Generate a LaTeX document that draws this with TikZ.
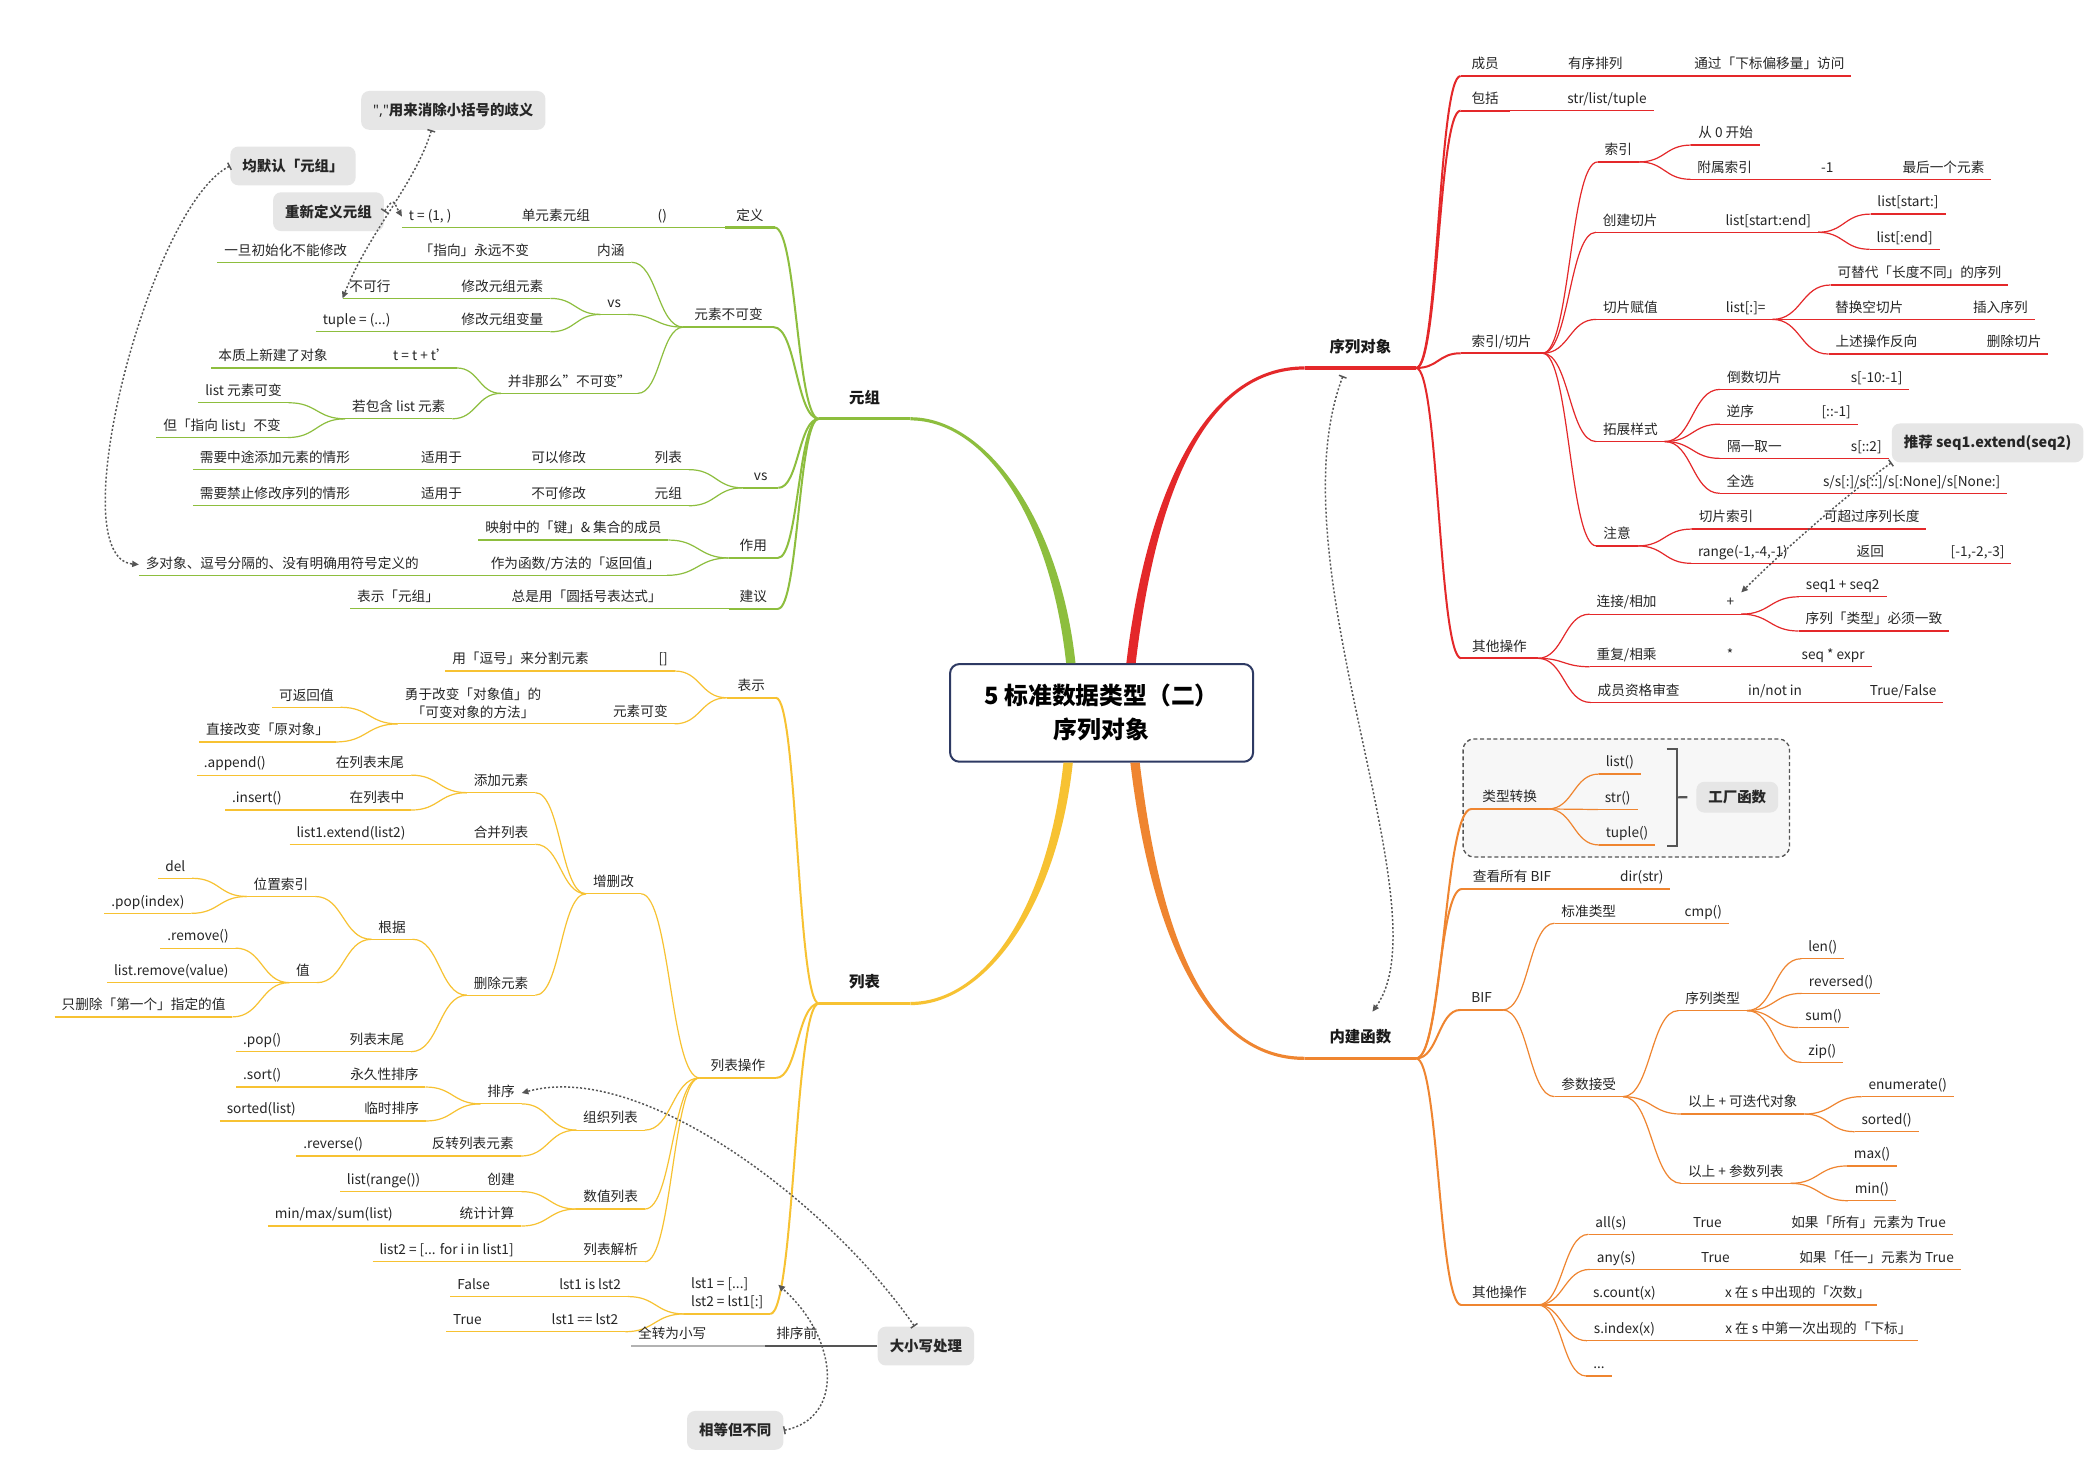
\documentclass[tikz,border=0pt]{standalone}
\usepackage{fontspec}
\setmainfont{Noto Sans CJK SC}
\newfontfamily\lat{Noto Sans}
\usetikzlibrary{arrows.meta, calc}
\definecolor{cG}{HTML}{8DBE3E}
\definecolor{cY}{HTML}{F7C232}
\definecolor{cR}{HTML}{E4282A}
\definecolor{cO}{HTML}{EF8530}
\definecolor{cN}{HTML}{2E3A63}
\definecolor{cC}{HTML}{E6E6E6}
\definecolor{cD}{HTML}{555555}
\colorlet{brc}{cG}
\newcommand\nf{\fontsize{10.2}{12}\selectfont}

\begin{document}
\begin{tikzpicture}[x=1pt, y=-1pt,
  tp/.style={anchor=south, inner xsep=5pt, inner ysep=3pt, text height=7.6pt, text depth=2.2pt, font=\nf, text=black!85},
  tm/.style={anchor=south, inner xsep=5pt, inner ysep=4pt, align=center, font=\fontsize{10.2}{13.4}\selectfont, text=black!85},
  u2/.style={append after command={(\tikzlastnode.south west) edge[ul] (\tikzlastnode.south east)}},
  u1/.style={append after command={(\tikzlastnode.south west) edge[ul1] (\tikzlastnode.south east)}},
  t2/.style={tp, u2},
  t1/.style={tp, inner xsep=8pt, u1},
  mn/.style={anchor=south west, inner xsep=6pt, inner ysep=9pt, text height=9pt, text depth=2.5pt, font=\fontsize{11.5}{13}\selectfont\bfseries, text=black!90,
    append after command={(\tikzlastnode.south west) edge[ulm] (\tikzlastnode.south east)}},
  ul/.style={draw=brc, line width=0.9pt},
  ul1/.style={draw=brc, line width=1.6pt},
  ulm/.style={draw=brc, line width=2.4pt},
  lk/.style={draw=brc, line width=0.9pt},
  lk1/.style={draw=brc, line width=1.5pt},
  cv/.style={to path={let \p1=(\tikztostart), \p2=(\tikztotarget) in .. controls ({0.5*\x1+0.5*\x2},\y1) and ({0.5*\x1+0.5*\x2},\y2) .. (\tikztotarget)}},
  hub/.style={draw=cN, line width=1.5pt, fill=white, rounded corners=7pt, minimum width=226.5pt, minimum height=73pt, align=center, font=\fontsize{17.8}{25.5}\selectfont\bfseries},
  note/.style={fill=cC, rounded corners=6pt, inner xsep=9pt, minimum height=29pt, font=\fontsize{10.8}{12}\selectfont\bfseries, text=black!85},
  rel/.style={draw=cD, line width=1.1pt, dash pattern=on 1.5pt off 1.5pt, arrows={Bar[width=6pt]-Triangle[length=5pt,width=4.5pt]}},
  bnd/.style={draw=cD, fill=gray!6, line width=1pt, dash pattern=on 3pt off 2pt, rounded corners=8pt},
  brk/.style={draw=cD, line width=1.6pt}
]
\useasboundingbox (0,0) rectangle (1568,1093);
\fill[white] (0,0) rectangle (1568,1093);

\node[hub] (ctr) at (823.3,532.8) {5 标准数据类型（二）\\序列对象};

% ---- 元组
\begin{scope}
\colorlet{brc}{cG}
\node[mn, minimum width=68pt] (tup) at (612,313) {元组};
\fill[cG] ($(ctr.north)+(-26.5,0)$) .. controls +(-12,-110) and +(55,0) .. ($(tup.south east)+(0,1.2)$) -- ($(tup.south east)+(0,-1.2)$) .. controls +(55,0) and +(-12,-110) .. ($(ctr.north)+(-19.5,0)$) -- cycle;
\node[t1] (dy) at (560.5,170) {定义};
\node[t2] (dyk) at (495,170) {()};
\node[t2] (dyd) at (415.5,170) {单元素元组};
\node[t2] (dyt) at (321.5,170) {t = (1, )};
\node[t1] (bkb) at (544.5,244.5) {元素不可变};
\node[t2] (nh) at (456.5,196) {内涵};
\node[t2] (zx) at (354.5,196) {「指向」永远不变};
\node[t2] (csh) at (213.5,196) {一旦初始化不能修改};
\node[t2] (vs1) at (459,235) {vs};
\node[t2] (xys) at (375.5,223) {修改元组元素};
\node[t2] (bkx) at (276.5,223) {不可行};
\node[t2] (xbl) at (375.5,248) {修改元组变量};
\node[t2] (tpe) at (266.5,248) {tuple = (...)};
\node[t2] (bfn) at (425.5,294) {并非那么"不可变"};
\node[t2] (ttt) at (315,275) {t = t + t'};
\node[t2] (bzx) at (204,275) {本质上新建了对象};
\node[t2] (bhl) at (298,313) {若包含 list 元素};
\node[t2] (lyk) at (182,301) {list 元素可变};
\node[t2] (dzx) at (166,327) {但「指向 list」不变};
\node[t1] (vs2) at (568.5,364.6) {vs};
\node[t2] (lb1) at (499.5,351) {列表};
\node[t2] (kyx) at (417.5,351) {可以修改};
\node[t2] (sy1) at (330,351) {适用于};
\node[t2] (ztj) at (205.5,351) {需要中途添加元素的情形};
\node[t2] (yz1) at (499.5,378) {元组};
\node[t2] (bkx2) at (417.5,378) {不可修改};
\node[t2] (sy2) at (330,378) {适用于};
\node[t2] (jzx) at (205.5,378) {需要禁止修改序列的情形};
\node[t1] (zy) at (563,417) {作用};
\node[t2] (ysj) at (428.5,403.6) {映射中的「键」\& 集合的成员};
\node[t2] (fhz) at (430,430) {作为函数/方法的「返回值」};
\node[t2] (dx) at (211,430) {多对象、逗号分隔的、没有明确用符号定义的};
\node[t1] (jy) at (563,455) {建议};
\node[t2] (zsy) at (438.5,455) {总是用「圆括号表达式」};
\node[t2] (bsy) at (297.5,455) {表示「元组」};
\foreach \a/\b in {tup/dy,tup/bkb,tup/vs2,tup/zy,tup/jy}
  \draw[lk1] (\a.south west) to[cv] (\b.south east);
\foreach \a/\b in {dy/dyk,dyk/dyd,dyd/dyt,bkb/nh,nh/zx,zx/csh,bkb/vs1,vs1/xys,xys/bkx,vs1/xbl,xbl/tpe,
    bkb/bfn,bfn/ttt,ttt/bzx,bfn/bhl,bhl/lyk,bhl/dzx,vs2/lb1,lb1/kyx,kyx/sy1,sy1/ztj,vs2/yz1,yz1/bkx2,
    bkx2/sy2,sy2/jzx,zy/ysj,zy/fhz,fhz/dx,jy/zsy,zsy/bsy}
  \draw[lk] (\a.south west) to[cv] (\b.south east);
\end{scope}

% ---- 列表
\begin{scope}
\colorlet{brc}{cY}
\node[mn, minimum width=68pt] (lst) at (612,750) {列表};
\fill[cY] ($(ctr.south)+(-21.5,0)$) .. controls +(-12,110) and +(55,0) .. ($(lst.south east)+(0,1.2)$) -- ($(lst.south east)+(0,-1.2)$) .. controls +(55,0) and +(-12,110) .. ($(ctr.south)+(-28.5,0)$) -- cycle;
\node[t1] (bs) at (561.5,521.5) {表示};
\node[t2] (fk) at (495.6,501.5) {[]};
\node[t2] (dh) at (389,501.5) {用「逗号」来分割元素};
\node[t2] (ykb) at (478.6,541) {元素可变};
\node[tm,u2] (yg) at (353.6,541) {勇于改变「对象值」的\\「可变对象的方法」};
\node[t2] (kfh) at (229,528.6) {可返回值};
\node[t2] (zjg) at (200,554.5) {直接改变「原对象」};
\node[t1] (lcz) at (551.5,805.6) {列表操作};
\node[t2] (zsg) at (458.5,668) {增删改};
\node[t2] (tj) at (374.5,592.4) {添加元素};
\node[t2] (mw) at (276.5,579.3) {在列表末尾};
\node[t2] (app) at (175.5,579.3) {.append()};
\node[t2] (zz) at (281.7,605.4) {在列表中};
\node[t2] (ins) at (192,605.4) {.insert()};
\node[t2] (hb) at (374.5,631) {合并列表};
\node[t2] (ext) at (262.3,631) {list1.extend(list2)};
\node[t2] (sc) at (374.5,743.8) {删除元素};
\node[t2] (gj) at (293,702) {根据};
\node[t2] (wz) at (210,670) {位置索引};
\node[t2] (del) at (131,656.4) {del};
\node[t2] (pix) at (110.5,682.6) {.pop(index)};
\node[t2] (zhi) at (226.5,734.4) {值};
\node[t2] (rmv) at (148,708.6) {.remove()};
\node[t2] (lrv) at (128,734.4) {list.remove(value)};
\node[t2] (zsc) at (107.3,760) {只删除「第一个」指定的值};
\node[t2] (lmw) at (281.7,786) {列表末尾};
\node[t2] (pop) at (196,786) {.pop()};
\node[t2] (zz2) at (456.3,844.6) {组织列表};
\node[t2] (px) at (374.5,825) {排序};
\node[t2] (yjx) at (287.3,812.4) {永久性排序};
\node[t2] (srt) at (196,812.4) {.sort()};
\node[t2] (lsx) at (292.7,837.8) {临时排序};
\node[t2] (sd) at (195.3,837.8) {sorted(list)};
\node[t2] (fz) at (353.3,864) {反转列表元素};
\node[t2] (rev) at (249,864) {.reverse()};
\node[t2] (szl) at (456.4,903.6) {数值列表};
\node[t2] (cj) at (374.5,890.6) {创建};
\node[t2] (lrg) at (286.7,890.6) {list(range())};
\node[t2] (tjs) at (364,916.3) {统计计算};
\node[t2] (mms) at (249.5,916.3) {min/max/sum(list)};
\node[t2] (lbj) at (456.4,943) {列表解析};
\node[t2] (lcp) at (333.8,943) {list2 = [... for i in list1]};
\node[tm,u1,align=left] (lstc) at (543.5,982) {lst1 = [...]\\lst2 = lst1[:]};
\node[t2] (iss) at (441,969) {lst1 is lst2};
\node[t2] (fls) at (354,969) {False};
\node[t2] (eqq) at (437.2,995.3) {lst1 == lst2};
\node[t2] (tru) at (349.3,995.3) {True};
\foreach \a/\b in {lst/bs,lst/lcz,lst/lstc}
  \draw[lk1] (\a.south west) to[cv] (\b.south east);
\foreach \a/\b in {bs/fk,fk/dh,bs/ykb,ykb/yg,yg/kfh,yg/zjg,lcz/zsg,zsg/tj,tj/mw,mw/app,tj/zz,zz/ins,
    zsg/hb,hb/ext,zsg/sc,sc/gj,gj/wz,wz/del,wz/pix,gj/zhi,zhi/rmv,zhi/lrv,zhi/zsc,sc/lmw,lmw/pop,
    lcz/zz2,zz2/px,px/yjx,yjx/srt,px/lsx,lsx/sd,zz2/fz,fz/rev,lcz/szl,szl/cj,cj/lrg,szl/tjs,tjs/mms,
    lcz/lbj,lbj/lcp,lstc/iss,iss/fls,lstc/eqq,eqq/tru}
  \draw[lk] (\a.south west) to[cv] (\b.south east);
\end{scope}

% ---- 序列对象
\begin{scope}
\colorlet{brc}{cR}
\node[mn, minimum width=83pt] (seq) at (975,275) {序列对象};
\fill[cR] ($(ctr.north)+(18.5,0)$) .. controls +(15,-126) and +(-75,0) .. ($(seq.south west)+(0,-1.2)$) -- ($(seq.south west)+(0,1.2)$) .. controls +(-75,0) and +(15,-126) .. ($(ctr.north)+(25.5,0)$) -- cycle;
\node[t1] (cy) at (1110,56.8) {成员};
\node[t2] (yxp) at (1192.3,56.8) {有序排列};
\node[t2] (tgx) at (1322.4,56.8) {通过「下标偏移量」访问};
\node[t1] (bk) at (1110,82.7) {包括};
\node[t2] (slt) at (1201,82.7) {str/list/tuple};
\node[t1] (sq) at (1122.3,264) {索引/切片};
\node[t2] (sy) at (1209.5,121) {索引};
\node[t2] (c0) at (1289.7,108.4) {从 0 开始};
\node[t2] (fs) at (1289,134) {附属索引};
\node[t2] (m1) at (1365.6,134) {-1};
\node[t2] (zh) at (1452.5,134) {最后一个元素};
\node[t2] (cjq) at (1218.4,173.6) {创建切片};
\node[t2] (lse) at (1321.6,173.6) {list[start:end]};
\node[t2] (ls1) at (1426,160) {list[start:]};
\node[t2] (ls2) at (1423.5,186.3) {list[:end]};
\node[t2] (qfz) at (1218.5,238.7) {切片赋值};
\node[t2] (lsa) at (1304.7,238.7) {list[:]=};
\node[t2] (ktd) at (1434.5,213) {可替代「长度不同」的序列};
\node[t2] (thk) at (1397,238.7) {替换空切片};
\node[t2] (crx) at (1495,238.7) {插入序列};
\node[t2] (sfx) at (1402.4,264.6) {上述操作反向};
\node[t2] (scq) at (1505.3,264.6) {删除切片};
\node[t2] (tzy) at (1218.5,330) {拓展样式};
\node[t2] (dsq) at (1311.2,291) {倒数切片};
\node[t2] (s10) at (1402.5,291) {s[-10:-1]};
\node[t2] (nx) at (1300.7,317) {逆序};
\node[t2] (rv1) at (1372.3,317) {[::-1]};
\node[t2] (gy) at (1311.2,342.6) {隔一取一};
\node[t2] (s2) at (1394.8,342.6) {s[::2]};
\node[t2] (qx) at (1300.7,368.7) {全选};
\node[t2] (sal) at (1428.7,368.7) {s/s[:]/s[::]/s[:None]/s[None:]};
\node[t2] (zyy) at (1208.5,408) {注意};
\node[t2] (qsy) at (1290,395.4) {切片索引};
\node[t2] (kcg) at (1398.8,395.4) {可超过序列长度};
\node[t2] (rng) at (1302.6,421) {range(-1,-4,-1)};
\node[t2] (fh) at (1397.8,421) {返回};
\node[t2] (r123) at (1478,421) {[-1,-2,-3]};
\node[t1] (qt) at (1120.7,492) {其他操作};
\node[t2] (ljx) at (1215.7,459) {连接/相加};
\node[t2] (pls) at (1293.3,459) {+};
\node[t2] (s12) at (1377.2,446) {seq1 + seq2};
\node[t2] (lxb) at (1400.5,471.6) {序列「类型」必须一致};
\node[t2] (cfx) at (1215.7,498.3) {重复/相乘};
\node[t2] (ast) at (1293,498.3) {*};
\node[t2] (sqe) at (1370,498.3) {seq * expr};
\node[t2] (cyz) at (1224.7,525) {成员资格审查};
\node[t2] (inn) at (1326.6,525) {in/not in};
\node[t2] (tf) at (1422.3,525) {True/False};
\foreach \a/\b in {seq/cy,seq/bk,seq/sq,seq/qt}
  \draw[lk1] (\a.south east) to[cv] (\b.south west);
\foreach \a/\b in {cy/yxp,yxp/tgx,bk/slt,sq/sy,sy/c0,sy/fs,fs/m1,m1/zh,sq/cjq,cjq/lse,lse/ls1,lse/ls2,
    sq/qfz,qfz/lsa,lsa/ktd,lsa/thk,thk/crx,lsa/sfx,sfx/scq,sq/tzy,tzy/dsq,dsq/s10,tzy/nx,nx/rv1,
    tzy/gy,gy/s2,tzy/qx,qx/sal,sq/zyy,zyy/qsy,qsy/kcg,zyy/rng,rng/fh,fh/r123,qt/ljx,ljx/pls,
    pls/s12,pls/lxb,qt/cfx,cfx/ast,ast/sqe,qt/cyz,cyz/inn,inn/tf}
  \draw[lk] (\a.south east) to[cv] (\b.south west);
\end{scope}

% ---- 内建函数
\begin{scope}
\colorlet{brc}{cO}
\draw[bnd] (1093.5,552.3) rectangle (1337.4,640.5);
\node[mn, minimum width=83pt] (bif) at (975,791) {内建函数};
\fill[cO] ($(ctr.south)+(28.5,0)$) .. controls +(15,126) and +(-75,0) .. ($(bif.south west)+(0,-1.2)$) -- ($(bif.south west)+(0,1.2)$) .. controls +(-75,0) and +(15,126) .. ($(ctr.south)+(21.5,0)$) -- cycle;
\node[t1] (lxz) at (1128.3,604.6) {类型转换};
\node[t2] (lsf) at (1210.6,578.5) {list()};
\node[t2] (stf) at (1209,605) {str()};
\node[t2] (tpl) at (1216,631.5) {tuple()};
\node[t1] (ckb) at (1130,664.4) {查看所有 BIF};
\node[t2] (dir) at (1227,664.4) {dir(str)};
\node[t1] (bf) at (1107.3,754.8) {BIF};
\node[t2] (bzl) at (1187.4,690) {标准类型};
\node[t2] (cmp) at (1273,690) {cmp()};
\node[t2] (csj) at (1187.4,819.6) {参数接受};
\node[t2] (xll) at (1280,755.3) {序列类型};
\node[t2] (len) at (1362.3,716.5) {len()};
\node[t2] (rvs) at (1376,742.4) {reversed()};
\node[t2] (sum) at (1363,768) {sum()};
\node[t2] (zip) at (1362,794) {zip()};
\node[t2] (ysd) at (1302.5,832.6) {以上 + 可迭代对象};
\node[t2] (enm) at (1425.8,819.6) {enumerate()};
\node[t2] (std) at (1410,845.8) {sorted()};
\node[t2] (yscs) at (1297.3,884.4) {以上 + 参数列表};
\node[t2] (max) at (1399.2,871.4) {max()};
\node[t2] (min) at (1399,897.4) {min()};
\node[t1] (qt2) at (1120.7,975.3) {其他操作};
\node[t2] (all) at (1204,922.5) {all(s)};
\node[t2] (tr1) at (1276,922.5) {True};
\node[t2] (rsy) at (1396.5,922.5) {如果「所有」元素为 True};
\node[t2] (any) at (1208,948.7) {any(s)};
\node[t2] (tr2) at (1282,948.7) {True};
\node[t2] (rrn) at (1402.5,948.7) {如果「任一」元素为 True};
\node[t2] (cnt) at (1214,975.3) {s.count(x)};
\node[t2] (cs) at (1343.5,975.3) {x 在 s 中出现的「次数」};
\node[t2] (idx) at (1214,1002) {s.index(x)};
\node[t2] (dyc) at (1359,1002) {x 在 s 中第一次出现的「下标」};
\node[t2] (dd) at (1195,1028.4) {...};
\foreach \a/\b in {bif/lxz,bif/ckb,bif/bf,bif/qt2}
  \draw[lk1] (\a.south east) to[cv] (\b.south west);
\foreach \a/\b in {lxz/lsf,lxz/stf,lxz/tpl,ckb/dir,bf/bzl,bzl/cmp,bf/csj,csj/xll,xll/len,xll/rvs,
    xll/sum,xll/zip,csj/ysd,ysd/enm,ysd/std,csj/yscs,yscs/max,yscs/min,qt2/all,all/tr1,tr1/rsy,
    qt2/any,any/tr2,tr2/rrn,qt2/cnt,cnt/cs,qt2/idx,idx/dyc,qt2/dd}
  \draw[lk] (\a.south east) to[cv] (\b.south west);
\end{scope}

% ---- callouts
\node[note] (gq) at (338.8,82.5) {{\lat\bfseries ","}用来消除小括号的歧义};
\node[note] (jm) at (219,124) {均默认「元组」};
\node[note] (rd) at (245.5,158.2) {重新定义元组};
\node[note] (tjc) at (1485.5,331) {推荐 seq1.extend(seq2)};
\node[note, minimum height=23pt] (gc) at (1298.4,595.8) {工厂函数};
\node[note] (dxc) at (692,1006) {大小写处理};
\node[note] (xd) at (549.5,1069) {相等但不同};

\coordinate (bt) at (1245.6,559.8);
\coordinate (bb) at (1245.6,632);
\draw[brk] (bt) -- ++(8,0) -- ($(bb)+(8,0)$) -- (bb);
\draw[brk, shorten >=6.5pt] ($(bt)!.5!(bb)+(8,0)$) -- (gc.west);

\begin{scope}
\colorlet{brc}{cD}
\node[t1] (pxq) at (595.5,1006) {排序前};
\draw[lk1] (dxc.west) -- (pxq.south east);
\begin{scope}
\colorlet{brc}{gray!60}
\node[t2] (qzx) at (502.4,1006) {全转为小写};
\draw[lk, line width=1.2pt] (pxq.south west) -- (qzx.south east);
\end{scope}
\end{scope}

% ---- relations
\draw[rel] (jm.west) .. controls +(-60,30) and +(-60,-5) .. (dx.west);
\draw[rel] (gq.222) .. controls +(-12,40) and +(20,-50) .. (bkx.south west);
\draw[rel] (rd.east) .. controls +(8,-12) and +(-6,-10) .. (dyt.west);
\draw[rel] (tjc.south west) .. controls +(-35,25) and +(30,-30) .. (pls.north east);
\draw[rel] ([xshift=-13pt,yshift=-6pt]seq.south) .. controls +(-53,139) and +(55,-76) .. ([xshift=9pt,yshift=5pt]bif.north);
\draw[rel] (dxc.120) .. controls +(-63,-91) and +(90,-25) .. (px.east);
\draw[rel] (xd.east) .. controls +(46,-9) and +(45,40) .. ([xshift=6pt,yshift=6pt]lstc.east);
\end{tikzpicture}
\end{document}
